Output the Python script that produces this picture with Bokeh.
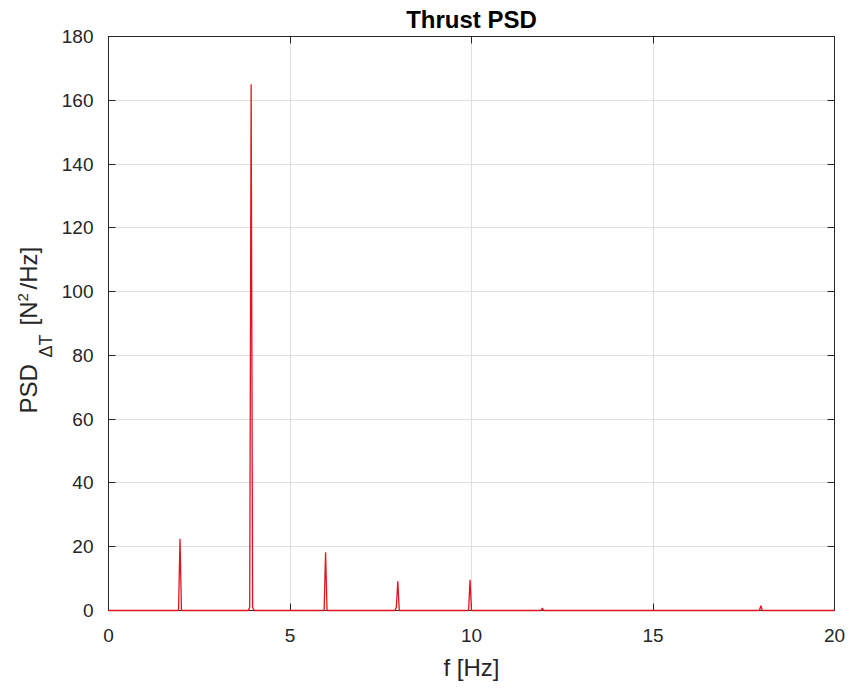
from bokeh.plotting import figure
from bokeh.models import Range1d, FixedTicker, Label, LinearAxis
from bokeh.layouts import row
from bokeh.embed import file_html
from bokeh.resources import INLINE

# ---- data ----
freq_hz = [0.0, 1.93, 1.97, 2.01, 3.85, 3.89, 3.93, 3.97, 4.01,
           5.94, 5.98, 6.02, 7.89, 7.93, 7.97, 8.01, 9.92, 9.96, 10.0,
           11.91, 11.95, 11.99, 17.93, 17.97, 18.01, 20.0]
psd_values = [0.0, 0.0, 22.5, 0.0, 0.0, 1.0, 165.0, 1.0, 0.0,
              0.0, 18.3, 0.0, 0.0, 1.0, 9.2, 0.0, 0.0, 9.6, 0.0,
              0.0, 0.8, 0.0, 0.0, 1.5, 0.0, 0.0]
x_ticks = [0, 5, 10, 15, 20]
y_ticks = [0, 20, 40, 60, 80, 100, 120, 140, 160, 180]
title_text = "Thrust PSD"
x_label_text = "f [Hz]"

FONT = "Liberation Sans"
AX = "#262626"

FL, FR, FT, FB = 108, 834, 36, 610   # frame edges in page pixels
LW = 58                              # width of the y-label strip

# ---- strip holding the composed y-axis label (its frame is aligned with the main frame) ----
lab = figure(frame_width=LW, frame_height=FB - FT, title=None,
             x_range=Range1d(0, LW), y_range=Range1d(FB, FT),
             x_axis_type=None, y_axis_type=None,
             min_border=0, min_border_left=0, min_border_right=0,
             min_border_top=0, min_border_bottom=0,
             output_backend="svg", toolbar_location=None,
             outline_line_color=None,
             background_fill_color="white", border_fill_color="white")
lab.grid.visible = False
pieces = [("PSD", 28, 413, "24px"),
          ("\u0394T", 45, 357, "18px"),
          ("[N", 28, 325, "24px"),
          ("2", 22, 301, "15px"),
          ("/Hz]", 28, 289, "24px")]
for txt, bx, by, fs in pieces:
    lab.add_layout(Label(x=bx, y=by, text=txt, angle=1.5707963,
                         text_align="left", text_baseline="alphabetic",
                         text_font=FONT, text_font_size=fs, text_color=AX))

# ---- main plot ----
p = figure(frame_width=FR - FL, frame_height=FB - FT,
           min_border_left=FL - LW, min_border_right=11,
           min_border_top=FT, min_border_bottom=73,
           x_range=Range1d(0, 20), y_range=Range1d(0, 180),
           output_backend="svg", toolbar_location=None,
           background_fill_color="white", border_fill_color="white")

p.line(freq_hz, psd_values, line_color="#e0141e", line_width=1.3, level="overlay")

p.title.text = title_text
p.title.align = "center"
p.title.text_font = FONT
p.title.text_font_size = "24px"
p.title.text_font_style = "bold"
p.title.text_color = "black"
p.title.standoff = 7

for ax in (p.xaxis[0], p.yaxis[0]):
    ax.major_tick_in = 7
    ax.major_tick_out = 0
    ax.minor_tick_line_color = None
    ax.axis_line_color = AX
    ax.major_tick_line_color = AX
    ax.major_label_text_font = FONT
    ax.major_label_text_font_size = "19px"
    ax.major_label_text_color = AX

p.xaxis.ticker = FixedTicker(ticks=x_ticks)
p.yaxis.ticker = FixedTicker(ticks=y_ticks)
p.xaxis.major_label_standoff = 18
p.yaxis.major_label_standoff = 15
p.xaxis.axis_label = x_label_text
p.xaxis.axis_label_text_font = FONT
p.xaxis.axis_label_text_font_size = "24px"
p.xaxis.axis_label_text_font_style = "normal"
p.xaxis.axis_label_text_color = AX
p.xaxis.axis_label_standoff = 9

# mirrored ticks on top/right (box on)
for loc, ticks in (("above", x_ticks), ("right", y_ticks)):
    a = LinearAxis(ticker=FixedTicker(ticks=ticks))
    a.major_tick_in = 7
    a.major_tick_out = 0
    a.minor_tick_line_color = None
    a.axis_line_color = AX
    a.major_tick_line_color = AX
    a.major_label_text_font_size = "0px"
    a.major_label_text_color = None
    a.major_label_standoff = 0
    p.add_layout(a, loc)

p.outline_line_color = AX
p.xgrid.ticker = FixedTicker(ticks=x_ticks)
p.ygrid.ticker = FixedTicker(ticks=y_ticks)
p.grid.grid_line_color = "#dfdfdf"
p.grid.grid_line_width = 1

layout = row(lab, p, spacing=0)
open("out.html", "w").write(file_html(layout, INLINE))
